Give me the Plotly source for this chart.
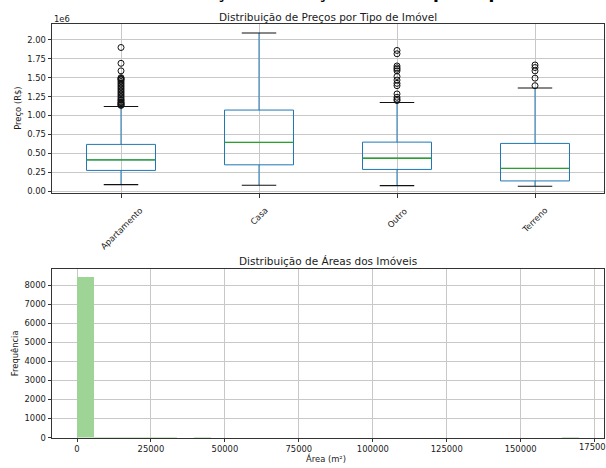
import plotly.graph_objects as go
import numpy as np

W, H = 606, 468

# ---------------- data ----------------
tipos = ["Apartamento", "Casa", "Outro", "Terreno"]
preco_min = [86000, 78000, 73000, 65000]
preco_q1 = [274000, 348000, 287000, 135000]
preco_mediana = [413000, 644000, 435000, 300000]
preco_q3 = [618000, 1072000, 648000, 631000]
preco_max = [1119000, 2090000, 1171000, 1363000]

outliers_apartamento = [1899000, 1690000, 1590000, 1500000, 1490000, 1480000, 1470000,
                        1450000, 1430000, 1410000, 1390000, 1370000, 1350000, 1330000,
                        1310000, 1290000, 1270000, 1250000, 1230000, 1210000, 1200000,
                        1180000, 1170000, 1160000, 1150000, 1140000, 1133000]
outliers_casa = []
outliers_outro = [1860000, 1816000, 1655000, 1630000, 1612000, 1590000, 1516000,
                  1468000, 1425000, 1394000, 1285000, 1241000, 1215000, 1198000]
outliers_terreno = [1668000, 1634000, 1590000, 1494000, 1394000]
outliers = [outliers_apartamento, outliers_casa, outliers_outro, outliers_terreno]

preco_ticks = [0, 250000, 500000, 750000, 1000000, 1250000, 1500000, 1750000, 2000000]
preco_ticktext = ["0.00", "0.25", "0.50", "0.75", "1.00", "1.25", "1.50", "1.75", "2.00"]

area_inicio = 0
area_fim = 169640
area_contagens = [8440, 6, 3, 2, 1, 1, 0, 1, 0, 0, 0, 0, 0, 0, 0,
                  0, 0, 0, 0, 0, 0, 0, 0, 0, 0, 0, 0, 0, 0, 1]
area_ticks = [0, 25000, 50000, 75000, 100000, 125000, 150000, 175000]
freq_ticks = [0, 1000, 2000, 3000, 4000, 5000, 6000, 7000, 8000]

# ---------------- styling ----------------
FONT = "DejaVu Sans"
TXT = "#1a1a1a"
BLUE = "#1f77b4"
GREEN = "#2ca02c"
GRID = "#c8c8c8"
SPINE = "#333333"
TICK_SIZE = 8.4
TITLE_SIZE = 10.5


def px_x(x):
    return x / W


def px_y(y):
    return 1 - y / H


pos = [1, 2, 3, 4]
box_w = 0.5
cap_w = 0.25

fig = go.Figure()

# Boxes (precomputed statistics)
fig.add_trace(go.Box(
    x=pos, q1=preco_q1, median=preco_mediana, q3=preco_q3,
    lowerfence=preco_min, upperfence=preco_max,
    width=box_w, whiskerwidth=0, boxpoints=False,
    line=dict(color=BLUE, width=1), fillcolor="rgba(0,0,0,0)",
    xaxis="x", yaxis="y", hoverinfo="skip",
))

# Medians (green) and caps (black)
med_x, med_y, cap_x, cap_y = [], [], [], []
for p, m, lo, hi in zip(pos, preco_mediana, preco_min, preco_max):
    med_x += [p - box_w / 2, p + box_w / 2, None]
    med_y += [m, m, None]
    cap_x += [p - cap_w / 2, p + cap_w / 2, None, p - cap_w / 2, p + cap_w / 2, None]
    cap_y += [lo, lo, None, hi, hi, None]
fig.add_trace(go.Scatter(x=med_x, y=med_y, mode="lines",
                         line=dict(color=GREEN, width=1.3), xaxis="x", yaxis="y"))
fig.add_trace(go.Scatter(x=cap_x, y=cap_y, mode="lines",
                         line=dict(color="#111111", width=1.1), xaxis="x", yaxis="y"))

# Fliers
fx, fy = [], []
for p, vals in zip(pos, outliers):
    fx += [p] * len(vals)
    fy += vals
fig.add_trace(go.Scatter(x=fx, y=fy, mode="markers",
                         marker=dict(symbol="circle-open", size=6,
                                     color="#111111", line=dict(width=1)),
                         xaxis="x", yaxis="y"))

# Histogram bars
n_bins = len(area_contagens)
edges = np.linspace(area_inicio, area_fim, n_bins + 1)
centers = (edges[:-1] + edges[1:]) / 2
bin_w = edges[1] - edges[0]
fig.add_trace(go.Bar(x=centers, y=area_contagens, width=bin_w,
                     marker=dict(color="rgb(158,212,150)", line=dict(width=0)),
                     xaxis="x2", yaxis="y2"))

axis_common = dict(
    showline=True, mirror=True, linecolor=SPINE, linewidth=1,
    ticks="outside", ticklen=3.5, tickwidth=1, tickcolor=SPINE,
    showgrid=True, gridcolor=GRID, gridwidth=1, zeroline=False,
    tickfont=dict(family=FONT, size=TICK_SIZE, color=TXT),
)

dom_x = [px_x(52), px_x(604)]

# last x tick label is drawn as an annotation (it is cut by the image edge)
area_ticktext = [str(t) for t in area_ticks[:-1]] + [""]

fig.update_layout(
    width=W, height=H,
    margin=dict(l=0, r=0, t=0, b=0),
    paper_bgcolor="white", plot_bgcolor="white",
    showlegend=False, bargap=0,
    font=dict(family=FONT, size=TICK_SIZE, color=TXT),
    xaxis=dict(domain=dom_x, anchor="y", range=[0.5, 4.5],
               tickvals=pos, showticklabels=False, **axis_common),
    yaxis=dict(domain=[px_y(195.5), px_y(24)], anchor="x",
               range=[-30000, 2213000], tickvals=preco_ticks,
               ticktext=preco_ticktext, **axis_common),
    xaxis2=dict(domain=dom_x, anchor="y2", range=[-8452, 178160],
                tickvals=area_ticks, ticktext=area_ticktext,
                **axis_common),
    yaxis2=dict(domain=[px_y(442.3), px_y(271.7)], anchor="x2",
                range=[0, 8862], tickvals=freq_ticks,
                ticktext=[str(t) for t in freq_ticks], **axis_common),
)

ann = []
# rotated category labels
for p, t in zip(pos, tipos):
    ann.append(dict(x=p, xref="x", y=px_y(205), yref="paper", text=t,
                    textangle=-45, xanchor="center", yanchor="top",
                    showarrow=False, font=dict(family=FONT, size=TICK_SIZE, color=TXT)))
# last histogram tick label
ann.append(dict(x=area_ticks[-1], xref="x2", y=px_y(452.3), yref="paper",
                text=str(area_ticks[-1]), xanchor="center", yanchor="middle",
                showarrow=False, font=dict(family=FONT, size=TICK_SIZE, color=TXT)))
# titles
ann.append(dict(x=px_x(328), xref="paper", y=px_y(17.5), yref="paper",
                text="Distribuição de Preços por Tipo de Imóvel",
                xanchor="center", yanchor="middle", showarrow=False,
                font=dict(family=FONT, size=TITLE_SIZE, color=TXT)))
ann.append(dict(x=px_x(328), xref="paper", y=px_y(263.5), yref="paper",
                text="Distribuição de Áreas dos Imóveis",
                xanchor="center", yanchor="middle", showarrow=False,
                font=dict(family=FONT, size=TITLE_SIZE, color=TXT)))
# offset text
ann.append(dict(x=px_x(52), xref="paper", y=px_y(19.5), yref="paper", text="1e6",
                xanchor="left", yanchor="middle", showarrow=False,
                font=dict(family=FONT, size=TICK_SIZE, color=TXT)))
# axis labels
ann.append(dict(x=px_x(18), xref="paper", y=px_y(110), yref="paper", text="Preço (R$)",
                textangle=-90, xanchor="center", yanchor="middle", showarrow=False,
                font=dict(family=FONT, size=TICK_SIZE, color=TXT)))
ann.append(dict(x=px_x(15), xref="paper", y=px_y(357), yref="paper", text="Frequência",
                textangle=-90, xanchor="center", yanchor="middle", showarrow=False,
                font=dict(family=FONT, size=TICK_SIZE, color=TXT)))
ann.append(dict(x=px_x(326), xref="paper", y=px_y(456), yref="paper", text="Área (m²)",
                xanchor="center", yanchor="top", showarrow=False,
                font=dict(family=FONT, size=TICK_SIZE, color=TXT)))
# cropped figure suptitle (only the bottom is visible in the image)
ann.append(dict(x=px_x(320), xref="paper", y=px_y(4), yref="paper",
                text="<b>Análise de Distribuição de Preços e Áreas por Tipo de Imóvel</b>",
                xanchor="center", yanchor="bottom", showarrow=False,
                font=dict(family=FONT, size=17, color="#000000")))
fig.update_layout(annotations=ann)

fig.write_html(
    "out.html",
    config={"displayModeBar": False},
    post_script="document.body.style.margin='0';document.body.style.padding='0';"
                "document.body.style.overflow='hidden';",
)
